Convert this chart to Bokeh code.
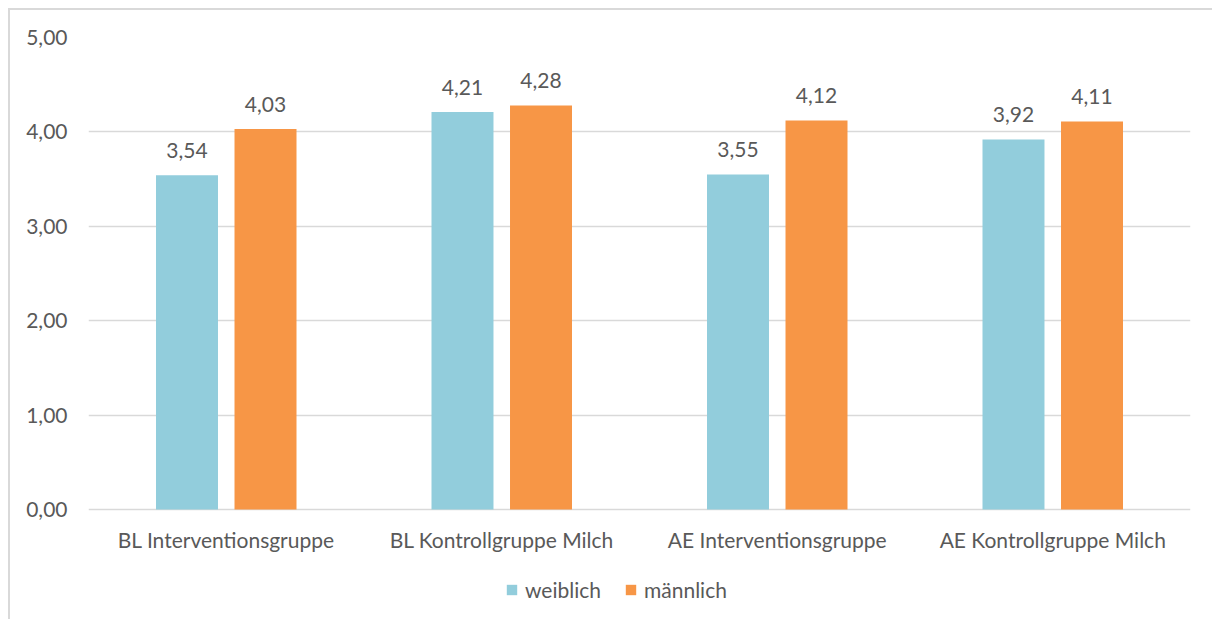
from bokeh.plotting import figure
from bokeh.models import (ColumnDataSource, FactorRange, Range1d, Legend, LegendItem,
                          LabelSet, FixedTicker)
from bokeh.core.properties import value
from bokeh.transform import dodge
from bokeh.embed import file_html
from bokeh.resources import INLINE

# Mean scores per group, split by sex
groups = ["BL Interventionsgruppe", "BL Kontrollgruppe Milch",
          "AE Interventionsgruppe", "AE Kontrollgruppe Milch"]
weiblich = [3.54, 4.21, 3.55, 3.92]
maennlich = [4.03, 4.28, 4.12, 4.11]
y_ticks = [0, 1, 2, 3, 4, 5]
y_tick_labels = ["0,00", "1,00", "2,00", "3,00", "4,00", "5,00"]

FONT = "Lato"
FS = "21px"
TEXT = "#595959"
GRID = "#D9D9D9"
BLUE = "#92CDDC"
ORANGE = "#F79646"

def fmt(v):
    return f"{v:.2f}".replace(".", ",")

src = ColumnDataSource(dict(
    g=groups, w=weiblich, m=maennlich,
    wl=[fmt(v) for v in weiblich], ml=[fmt(v) for v in maennlich],
))

# plot frame: value axis 0..5 over 472 px; the frame continues below zero so the
# category labels and the legend can sit inside it
PX_PER_UNIT = 472 / 5
BELOW_ZERO_PX = 110
y_min = -BELOW_ZERO_PX / PX_PER_UNIT

p = figure(x_range=FactorRange(*groups), y_range=Range1d(y_min, 5),
           x_axis_location=None,
           width=1204, height=611, output_backend="svg", toolbar_location=None,
           min_border_left=78, min_border_right=24, min_border_top=27, min_border_bottom=2)
p.margin = (8, 0, 0, 8)
p.styles = {"border-top": f"2px solid {GRID}", "border-left": f"2px solid {GRID}"}
p.outline_line_color = None
p.background_fill_color = "white"
p.border_fill_color = "white"

bw = 0.225
off = 0.1425
rw = p.vbar(x=dodge("g", -off, range=p.x_range), top="w", width=bw, source=src,
            fill_color=BLUE, line_color=None)
rm = p.vbar(x=dodge("g", off, range=p.x_range), top="m", width=bw, source=src,
            fill_color=ORANGE, line_color=None)

# value labels above the bars
for ycol, lcol, o in (("w", "wl", -off), ("m", "ml", off)):
    p.add_layout(LabelSet(x=dodge("g", o, range=p.x_range), y=ycol, text=lcol, source=src,
                          text_align="center", text_baseline="middle", y_offset=25,
                          text_font=value(FONT), text_font_size=FS, text_color=TEXT))

# category labels under the zero line
p.add_layout(LabelSet(x="g", y=0, text="g", source=src,
                      text_align="center", text_baseline="middle", y_offset=-30,
                      text_font=value(FONT), text_font_size=FS, text_color=TEXT))

# y axis
p.yaxis.ticker = FixedTicker(ticks=y_ticks)
p.yaxis.major_label_overrides = {t: l for t, l in zip(y_ticks, y_tick_labels)}
p.yaxis.axis_line_color = None
p.yaxis.major_tick_line_color = None
p.yaxis.minor_tick_line_color = None
p.yaxis.major_label_text_font = FONT
p.yaxis.major_label_text_font_size = FS
p.yaxis.major_label_text_color = TEXT
p.yaxis.major_label_standoff = 15

p.ygrid.grid_line_color = GRID
p.ygrid.grid_line_width = 1.5
p.xgrid.grid_line_color = None

legend = Legend(items=[LegendItem(label="weiblich", renderers=[rw]),
                       LegendItem(label="männlich", renderers=[rm])],
                orientation="horizontal", location=(417, 17),
                label_text_font=FONT, label_text_font_size=FS, label_text_color=TEXT,
                glyph_width=13, glyph_height=13, spacing=23, label_standoff=7,
                border_line_color=None, background_fill_alpha=0, margin=0, padding=0)
p.add_layout(legend)

open("out.html", "w").write(file_html(p, INLINE))
